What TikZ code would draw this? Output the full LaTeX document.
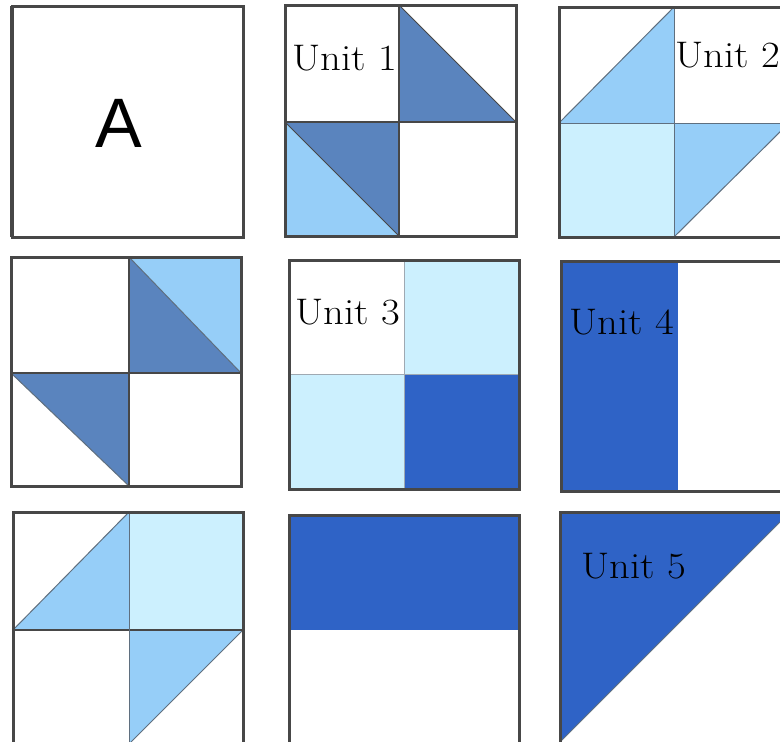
\documentclass[tikz,border=0pt]{standalone}
\usepackage{fontspec}
\newfontfamily\sansA{Liberation Sans}
\definecolor{midblue}{HTML}{5A84BE}
\definecolor{ltblue}{HTML}{96CEF8}
\definecolor{paleblue}{HTML}{CCF0FE}
\definecolor{royal}{HTML}{2F63C6}
\definecolor{edge}{HTML}{474747}
\definecolor{inner}{HTML}{5F6F7F}
\newcommand{\unittext}[1]{\scalebox{1.1}[1]{#1}}
\tikzset{
  frame/.style={draw=edge, line width=3pt},
  divline/.style={draw=inner, line width=1pt},
  unitlbl/.style={anchor=base west, inner sep=0pt, font=\fontsize{37}{42}\selectfont, text=black},
}
\begin{document}
\begin{tikzpicture}[x=1pt,y=-1pt]
\useasboundingbox (0,0) rectangle (780,742);
\clip (0,0) rectangle (780,742);
\fill[white] (0,0) rectangle (780,742);

% ---- Box A
\draw[frame] (12,6) rectangle (243,237);
\draw[edge, line width=3.8pt] (12,6) -- (12,237);
\node (lblA) [anchor=base, inner sep=0pt, font=\sansA\fontsize{70}{80}\selectfont] at (118.5,147) {A};

% ---- Unit 1
\fill[midblue] (399,5) -- (399,122) -- (516,122) -- cycle;
\fill[midblue] (285,122) -- (399,122) -- (399,236) -- cycle;
\fill[ltblue] (285,122) -- (285,236) -- (399,236) -- cycle;
\draw[edge, line width=0.8pt] (399,5) -- (516,122) (285,122) -- (399,236);
\draw[edge, line width=2pt] (399,5) -- (399,236) (285,122) -- (516,122);
\draw[frame] (285,5) rectangle (516,236);
\node (u1) [unitlbl] at (292,70) {\unittext{Unit 1}};

% ---- Unit 2
\fill[ltblue] (559,123) -- (674,7) -- (674,123) -- cycle;
\fill[paleblue] (559,123) rectangle (674,237);
\fill[ltblue] (674,123) -- (789,123) -- (674,237) -- cycle;
\draw[divline] (559,123) -- (674,7) (674,237) -- (789,123);
\draw[divline] (674,7) -- (674,237) (559,123) -- (789,123);
\draw[frame] (559,7) rectangle (789,237);
\node (u2) [unitlbl] at (675,67) {\unittext{Unit 2}};

% ---- Box 4
\fill[ltblue] (129,257) -- (241,257) -- (241,373) -- cycle;
\fill[midblue] (129,257) -- (129,373) -- (241,373) -- cycle;
\fill[midblue] (11,373) -- (129,373) -- (129,486) -- cycle;
\draw[divline] (129,257) -- (241,373) (11,373) -- (129,486);
\draw[edge, line width=1.6pt] (129,257) -- (129,486) (11,373) -- (241,373);
\draw[frame] (11,257) rectangle (241,486);

% ---- Unit 3
\fill[paleblue] (404,260) rectangle (519,374);
\fill[paleblue] (289,374) rectangle (404,489);
\fill[royal] (404,374) rectangle (519,489);
\draw[divline, draw=inner!60] (404,260) -- (404,489) (289,374) -- (519,374);
\draw[frame] (289,260) rectangle (519,489);
\node (u3) [unitlbl] at (295,324) {\unittext{Unit 3}};

% ---- Unit 4
\fill[royal] (561,261) rectangle (678,491);
\draw[frame] (561,261) rectangle (791,491);
\node (u4) [unitlbl] at (569,334) {\unittext{Unit 4}};

% ---- Box 7
\fill[ltblue] (13,630) -- (129,512) -- (129,630) -- cycle;
\fill[paleblue] (129,512) rectangle (243,630);
\fill[ltblue] (129,630) -- (243,630) -- (129,744) -- cycle;
\draw[divline] (13,630) -- (129,512) (129,744) -- (243,630);
\draw[edge, line width=1.4pt] (13,630) -- (243,630);
\draw[divline] (129,512) -- (129,745);
\draw[frame] (13,512) rectangle (243,746);

% ---- Box 8
\fill[royal] (289,515) rectangle (519,630);
\draw[frame] (289,515) rectangle (519,746);

% ---- Unit 5
\fill[royal] (560,512) -- (790,512) -- (560,742) -- cycle;
\draw[divline] (790,512) -- (560,742);
\draw[frame] (560,512) rectangle (790,744);
\node (u5) [unitlbl] at (581,578) {\unittext{Unit 5}};
\end{tikzpicture}
\end{document}
